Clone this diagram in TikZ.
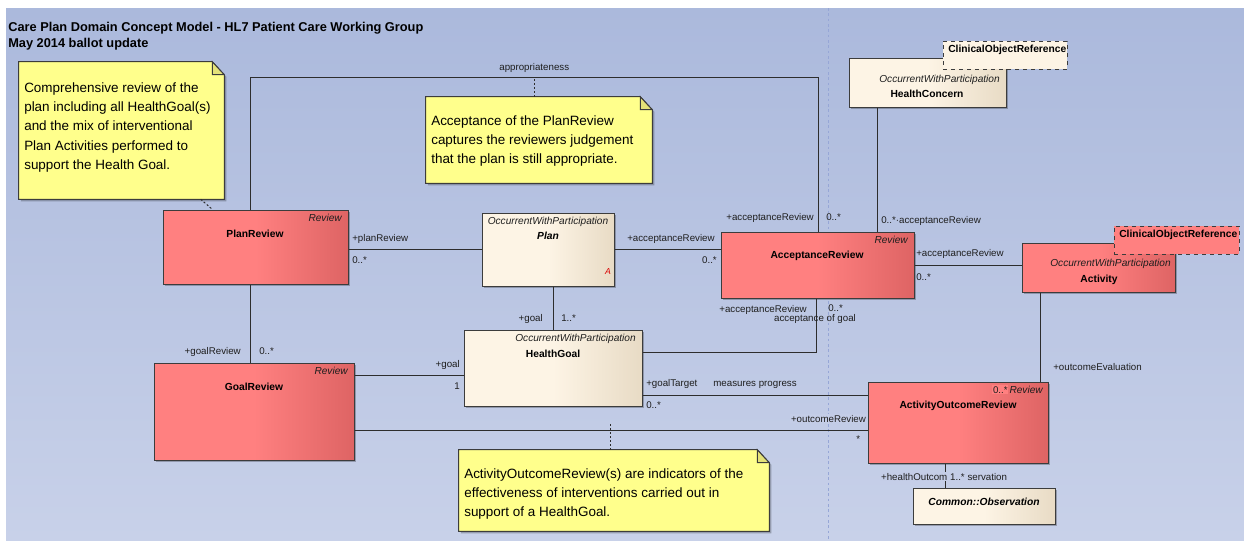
\documentclass[tikz,border=0pt]{standalone}
\usepackage{fontspec}
\setmainfont{Liberation Sans}
\usetikzlibrary{positioning,fit,shadows,calc}

\definecolor{bgA}{RGB}{171,185,220}
\definecolor{bgB}{RGB}{200,209,233}
\definecolor{lblbg}{RGB}{196,205,231}
\definecolor{revA}{RGB}{255,128,128}
\definecolor{revB}{RGB}{222,100,100}
\definecolor{crA}{RGB}{253,244,229}
\definecolor{crB}{RGB}{232,219,197}
\definecolor{noteY}{RGB}{255,255,140}
\definecolor{noteE}{RGB}{228,226,120}
\definecolor{boxline}{RGB}{60,60,60}
\definecolor{linec}{RGB}{45,45,45}
\definecolor{txt}{RGB}{30,30,30}
\definecolor{pagel}{RGB}{150,166,214}

\begin{document}
\begin{tikzpicture}[
    x=0.75pt, y=-0.75pt,
    review/.style={draw=boxline, line width=0.75pt, inner sep=0pt, left color=revA, right color=revB, middle color=revA,
        drop shadow={shadow xshift=1.6pt, shadow yshift=-1.6pt, fill=black, opacity=0.25}},
    occur/.style={draw=boxline, line width=0.75pt, inner sep=0pt, left color=crA, right color=crB, middle color=crA,
        drop shadow={shadow xshift=1.6pt, shadow yshift=-1.6pt, fill=black, opacity=0.25}},
    cref/.style={draw=boxline, line width=0.75pt, dashed, inner sep=0pt},
    stereo/.style={font=\fontsize{7.6}{9}\selectfont\itshape, inner sep=0pt, text=txt},
    cname/.style={font=\fontsize{7.7}{9}\selectfont\bfseries, inner sep=0pt, text=black},
    lbl/.style={font=\fontsize{7.3}{9}\selectfont, inner sep=0pt, text=txt},
    assoc/.style={draw=linec, line width=0.75pt},
    noteln/.style={draw=linec, line width=0.75pt, dash pattern=on 1.5pt off 1.5pt},
    notepaper/.style={draw=boxline, line width=0.75pt, fill=noteY,
        drop shadow={shadow xshift=1.6pt, shadow yshift=-1.6pt, fill=black, opacity=0.25}},
    noteear/.style={draw=boxline, line width=0.75pt, fill=noteE},
    notetxt/.style={font=\fontsize{10.1}{14.6}\selectfont, align=left, inner sep=0pt, anchor=north west},
    ttl/.style={font=\fontsize{9.6}{12}\selectfont\bfseries, inner sep=0pt, anchor=base west}
]

% --- Page and title ---
\useasboundingbox (0,0) rectangle (1244,540);
\fill[white] (0,0) rectangle (1244,540);
\fill[top color=bgA, bottom color=bgB] (6,8) rectangle (1244,540);
\draw[pagel, line width=0.5pt, dash pattern=on 2pt off 2pt] (828,8) -- (828,540);
\node[ttl] (title1) at (8,31) {Care Plan Domain Concept Model - HL7 Patient Care Working Group};
\node[ttl] (title2) at (8,47) {May 2014 ballot update};

% --- Review classes ---
\node[review, fit={(163,210) (348,284)}] (pr) {};
\node[stereo, anchor=base east] (pr-st) at (342,221) {Review};
\node[cname, anchor=base] (pr-nm) at (255,237) {PlanReview};

\node[review, fit={(154,363) (354,460)}] (gr) {};
\node[stereo, anchor=base east] (gr-st) at (348,374) {Review};
\node[cname, anchor=base] (gr-nm) at (254,390) {GoalReview};

\node[review, fit={(721,232) (914,298)}] (ar) {};
\node[stereo, anchor=base east] (ar-st) at (908,243) {Review};
\node[cname, anchor=base] (ar-nm) at (817,258) {AcceptanceReview};

\node[review, fit={(868,382) (1048,463)}] (aor) {};
\node[stereo, anchor=base east] (aor-st) at (1043,393) {Review};
\node[cname, anchor=base] (aor-nm) at (958,408) {ActivityOutcomeReview};

% --- Occurrent classes ---
\node[occur, fit={(482,213) (614,286)}] (plan) {};
\node[stereo, anchor=base] (plan-st) at (548,224) {OccurrentWithParticipation};
\node[cname, anchor=base, font=\fontsize{7.7}{9}\selectfont\bfseries\itshape] (plan-nm) at (548,239) {Plan};
\node[lbl, anchor=base, text=red!85!black, font=\fontsize{6.5}{8}\selectfont\itshape] (plan-a) at (608,274) {A};

\node[occur, fit={(464,330) (642,406)}] (hg) {};
\node[stereo, anchor=base east] (hg-st) at (636,341) {OccurrentWithParticipation};
\node[cname, anchor=base] (hg-nm) at (553,357) {HealthGoal};

\node[occur, fit={(849,58) (1006,107)}] (hc) {};
\node[stereo, anchor=base east] (hc-st) at (1000,82) {OccurrentWithParticipation};
\node[cname, anchor=base] (hc-nm) at (927,97) {HealthConcern};
\node[cref, fill=crA, fit={(943,41) (1067,69)}] (cor1) {};
\node[cname, anchor=base west] (cor1-nm) at (948,52) {ClinicalObjectReference};

\node[review, fit={(1022,243) (1175,292)}] (act) {};
\node[stereo, anchor=base east] (act-st) at (1171,266) {OccurrentWithParticipation};
\node[cname, anchor=base] (act-nm) at (1099,282) {Activity};
\node[cref, fill=revA, fit={(1114,226) (1239,254)}] (cor2) {};
\node[cname, anchor=base west] (cor2-nm) at (1119,237) {ClinicalObjectReference};

\node[occur, fit={(913,488) (1055,524)}] (obs) {};
\node[cname, anchor=base, font=\fontsize{7.7}{9}\selectfont\bfseries\itshape] (obs-nm) at (984,505) {Common::Observation};

% --- Notes ---
\node[fit={(19,62) (224,199)}, inner sep=0pt] (n1) {};
\draw[notepaper] (n1.north west) -- ([shift={(-12,0)}]n1.north east) -- ([shift={(0,13)}]n1.north east) -- (n1.south east) -- (n1.south west) -- cycle;
\draw[noteear] ([shift={(-12,0)}]n1.north east) -- ([shift={(-12,13)}]n1.north east) -- ([shift={(0,13)}]n1.north east) -- cycle;
\node[notetxt] (n1-txt) at (24,82) {Comprehensive review of the\\plan including all HealthGoal(s)\\and the mix of interventional\\Plan Activities performed to\\support the Health Goal.};

\node[fit={(426,97) (652,183)}, inner sep=0pt] (n2) {};
\draw[notepaper] (n2.north west) -- ([shift={(-12,0)}]n2.north east) -- ([shift={(0,13)}]n2.north east) -- (n2.south east) -- (n2.south west) -- cycle;
\draw[noteear] ([shift={(-12,0)}]n2.north east) -- ([shift={(-12,13)}]n2.north east) -- ([shift={(0,13)}]n2.north east) -- cycle;
\node[notetxt] (n2-txt) at (431,115) {Acceptance of the PlanReview\\captures the reviewers judgement\\that the plan is still appropriate.};

\node[fit={(459,450) (769,531)}, inner sep=0pt] (n3) {};
\draw[notepaper] (n3.north west) -- ([shift={(-12,0)}]n3.north east) -- ([shift={(0,13)}]n3.north east) -- (n3.south east) -- (n3.south west) -- cycle;
\draw[noteear] ([shift={(-12,0)}]n3.north east) -- ([shift={(-12,13)}]n3.north east) -- ([shift={(0,13)}]n3.north east) -- cycle;
\node[notetxt] (n3-txt) at (464,468) {ActivityOutcomeReview(s) are indicators of the\\effectiveness of interventions carried out in\\support of a HealthGoal.};

% --- Associations ---
\coordinate (apR) at (818,77);
\draw[assoc] ([shift={(88,0)}]pr.north west) |- node[lbl, pos=0.75, above=3pt] (appr) {appropriateness} (apR) -- (apR |- ar.north);
\draw[assoc] (plan.west) -- (plan.west -| pr.east);
\draw[assoc] (plan.east) -- (plan.east -| ar.west);
\draw[assoc] (hg.north) -- (hg.north |- plan.south);
\draw[assoc] ([shift={(88,0)}]pr.south west) -- ([shift={(97,0)}]gr.north west);
\draw[assoc] ([shift={(0,13)}]gr.north east) -- ([shift={(0,13)}]gr.north east -| hg.west);
\draw[assoc] ([shift={(0,23)}]hg.north east) -| ([shift={(96,0)}]ar.south west);
\draw[assoc] ([shift={(29,0)}]hc.south west) -- ([shift={(29,0)}]hc.south west |- ar.north);
\draw[assoc] (ar.east) -- (ar.east -| act.west);
\draw[assoc] ([shift={(19,0)}]act.south west) -- ([shift={(19,0)}]act.south west |- aor.north);
\draw[assoc] ([shift={(0,-11)}]hg.south east) -- node[lbl, above=5pt] (mprog) {measures progress} ([shift={(0,-11)}]hg.south east -| aor.west);
\draw[assoc] ([shift={(0,68)}]gr.north east) -- ([shift={(0,68)}]gr.north east -| aor.west);
\draw[assoc] ([shift={(78,0)}]aor.south west) -- ([shift={(78,0)}]aor.south west |- obs.north);

% --- Note links ---
\draw[noteln] ([shift={(182,0)}]n1.south west) -- ([shift={(50,0)}]pr.north west);
\draw[noteln] ([shift={(109,0)}]n2.north west) -- ([shift={(109,0)}]n2.north west |- apR);
\draw[noteln] ([shift={(152,0)}]n3.north west) -- ([shift={(152,0)}]n3.north west |- aor.west);

% --- Role names and multiplicities ---
\node[lbl, anchor=base west] (r1) at (352,241) {+planReview};
\node[lbl, anchor=base west] (m1) at (352,263) {0..*};
\node[lbl, anchor=base west] (r2) at (627,241) {+acceptanceReview};
\node[lbl, anchor=base east] (m2) at (717,263) {0..*};
\node[lbl, anchor=base east] (r3) at (543,321) {+goal};
\node[lbl, anchor=base west] (m3) at (561,321) {1..*};
\node[lbl, anchor=base east] (r4) at (241,354) {+goalReview};
\node[lbl, anchor=base west] (m4) at (259,354) {0..*};
\node[lbl, anchor=base east] (r5) at (460,367) {+goal};
\node[lbl, anchor=base east] (m5) at (460,389) {1};
\node[lbl, anchor=base east] (r6) at (814,220) {+acceptanceReview};
\node[lbl, anchor=base west] (m6) at (826,220) {0..*};
\node[lbl, anchor=base west] (r7) at (881,223) {0..*·acceptanceReview};
\node[lbl, anchor=base west] (r8) at (916,256) {+acceptanceReview};
\node[lbl, anchor=base west] (m8) at (916,280) {0..*};
\node[lbl, anchor=base east] (r9) at (807,312) {+acceptanceReview};
\node[lbl, anchor=base west] (m9) at (828,311) {0..*};
\node[lbl, anchor=base] (acg) at (815,321) {acceptance of goal};
\node[lbl, anchor=base west] (r10) at (1053,370) {+outcomeEvaluation};
\node[lbl, anchor=base west, fill=revA, inner sep=0.6pt] (m10) at (992,393) {0..*};
\node[lbl, anchor=base west] (r11) at (646,386) {+goalTarget};
\node[lbl, anchor=base west] (m11) at (646,408) {0..*};
\node[lbl, anchor=base east, fill=lblbg, inner sep=0.6pt] (r12) at (867,422) {+outcomeReview};
\node[lbl, anchor=base west] (m12) at (856,442) {*};
\node[lbl, anchor=base west, fill=lblbg, inner sep=0.6pt] (r13) at (880,480) {+healthOutcom};
\node[lbl, anchor=base west, fill=lblbg, inner sep=0.6pt, right=0.5pt of r13.base east, anchor=base west] (m13) {1..*};
\node[lbl, anchor=base west, fill=lblbg, inner sep=0.6pt, right=0.5pt of m13.base east, anchor=base west] (r13b) {servation};

\end{tikzpicture}
\end{document}
